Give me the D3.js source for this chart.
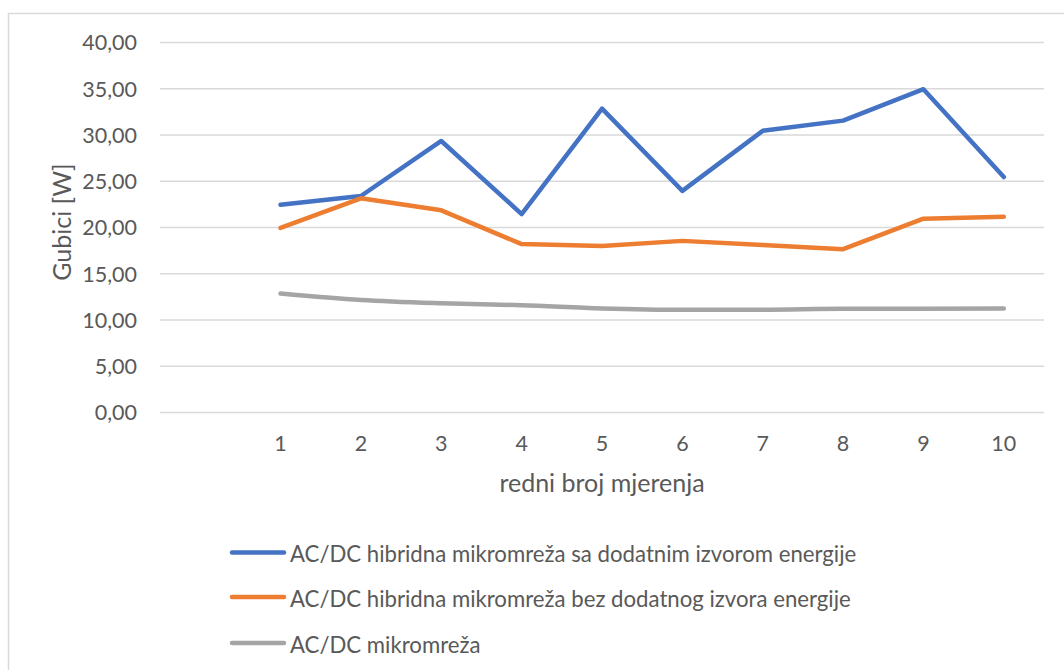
<!DOCTYPE html>
<html><head><meta charset="utf-8">
<script src="https://cdn.jsdelivr.net/npm/d3@7"></script>
<style>body{margin:0;background:#fff;} text{font-family:Lato, "Open Sans", sans-serif; fill:#595959;}</style>
</head><body><svg id="c" width="1064" height="670"></svg>
<script>
const categories = ["", "1","2","3","4","5","6","7","8","9","10"];
const seriesNames = ["AC/DC hibridna mikromreža sa dodatnim izvorom energije","AC/DC hibridna mikromreža bez dodatnog izvora energije","AC/DC mikromreža"];
const blueValues = [22.4, 23.35, 29.3, 21.4, 32.8, 23.9, 30.4, 31.5, 34.9, 25.4];
const orangeValues = [19.9, 23.1, 21.8, 18.15, 17.95, 18.5, 18.05, 17.6, 20.9, 21.1];
const grayValues = [12.8, 12.1, 11.75, 11.55, 11.2, 11.05, 11.05, 11.15, 11.15, 11.2];
const yTicks = [0,5,10,15,20,25,30,35,40];
const colors = ["#4472C4","#ED7D31","#A5A5A5"];

const svg = d3.select("#c");
svg.append("rect").attr("x",8.5).attr("y",13.5).attr("width",1080).attr("height",700)
  .attr("fill","none").attr("stroke","#D9D9D9").attr("stroke-width",1.5);

const pL=160, pR=1044, pT=42, pB=412;
const x = d3.scaleBand().domain(categories).range([pL,pR]);
const y = d3.scaleLinear().domain([0,40]).range([pB,pT]);
const fmt = v => d3.format(".2f")(v).replace(".",",");

const gy = svg.append("g").attr("transform",`translate(${pL},0)`)
  .call(d3.axisLeft(y).tickValues(yTicks).tickSize(-(pR-pL)).tickFormat(fmt));
gy.select(".domain").remove();
gy.selectAll("line").attr("stroke","#D9D9D9").attr("stroke-width",1.5);
gy.selectAll("text").attr("x",-23).attr("dy","0.36em").attr("font-size",21.5).style("font-family","Lato").attr("fill","#595959");

const gx = svg.append("g").attr("transform",`translate(0,${pB})`)
  .call(d3.axisBottom(x).tickSize(0));
gx.select(".domain").remove();
gx.selectAll("text").attr("y",39).attr("dy",0).attr("font-size",21.5).style("font-family","Lato").attr("fill","#595959");

svg.append("text").attr("x",602).attr("y",492).attr("text-anchor","middle")
  .attr("font-size",25).text("redni broj mjerenja");
svg.append("text").attr("transform","translate(71,222) rotate(-90)").attr("text-anchor","middle")
  .attr("font-size",25).text("Gubici [W]");

const allSeries=[blueValues,orangeValues,grayValues];
allSeries.forEach((vals,i)=>{
  const line = d3.line().x((d,j)=>x(categories[j+1])+x.bandwidth()/2).y(d=>y(d))
    .curve(i===2?d3.curveMonotoneX:d3.curveLinear);
  svg.append("path").datum(vals).attr("d",line).attr("fill","none")
    .attr("stroke",colors[i]).attr("stroke-width",4.5).attr("stroke-linecap","round").attr("stroke-linejoin","round");
});

const legY=[552.5,597,643];
seriesNames.forEach((n,i)=>{
  svg.append("line").attr("x1",232).attr("x2",284).attr("y1",legY[i]).attr("y2",legY[i])
    .attr("stroke",colors[i]).attr("stroke-width",4.5).attr("stroke-linecap","round");
  svg.append("text").attr("x",290).attr("y",legY[i]+9.5).attr("font-size",22.2).text(n);
});
</script></body></html>
